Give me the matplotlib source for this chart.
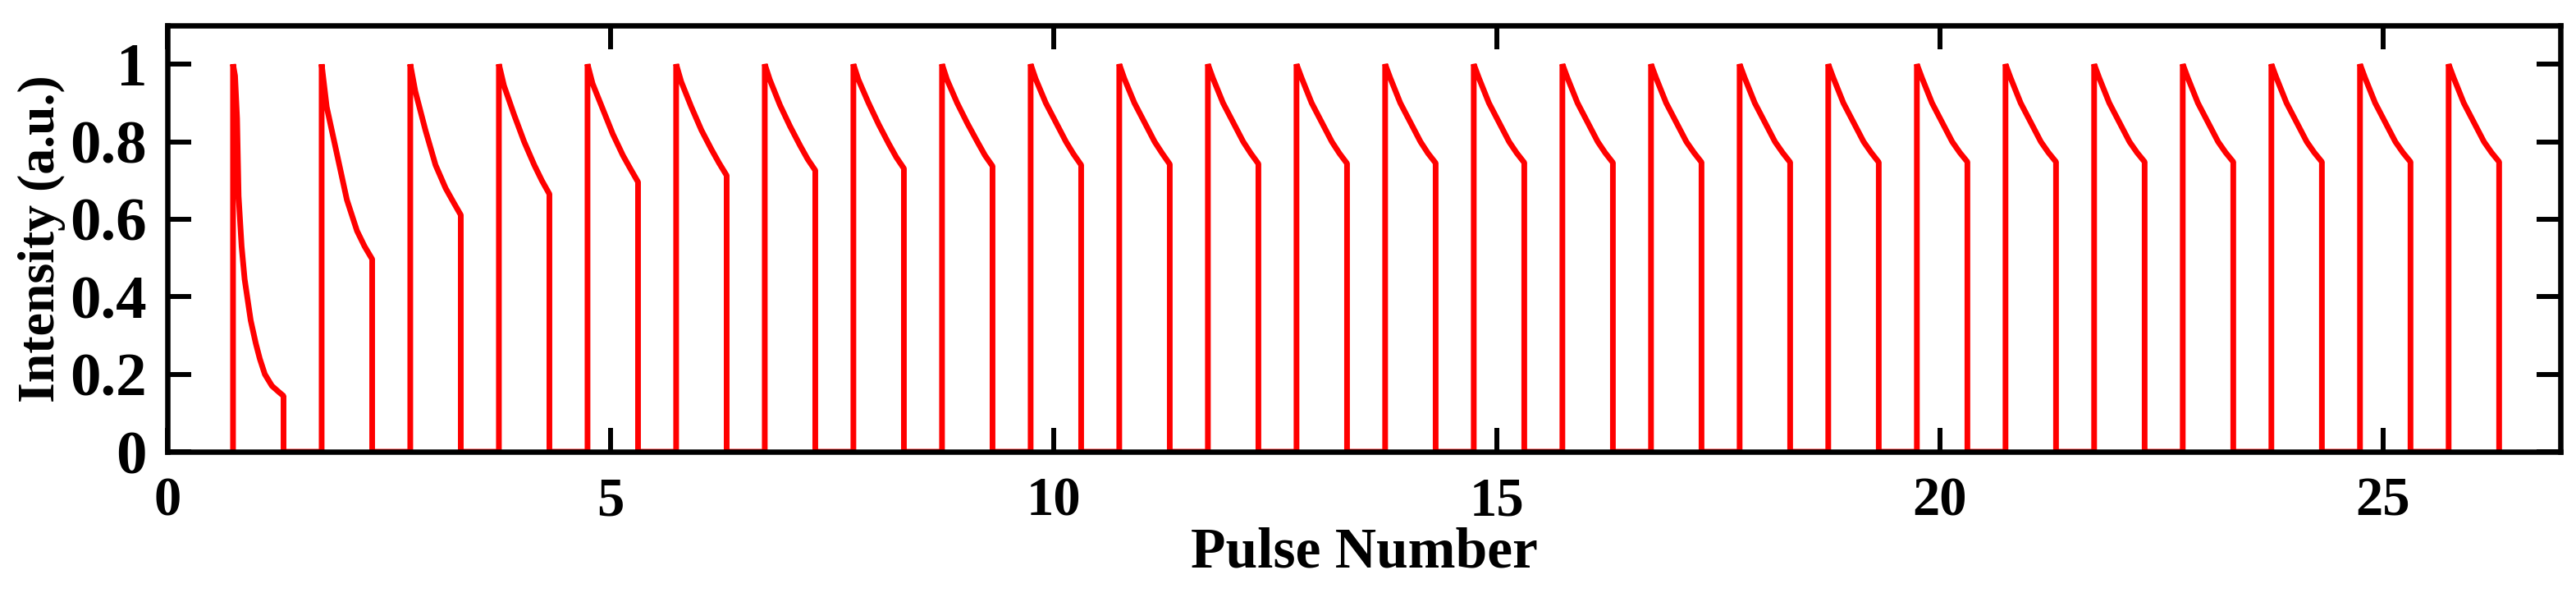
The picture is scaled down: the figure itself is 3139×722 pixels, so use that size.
import numpy as np
import matplotlib
matplotlib.use('Agg')
from matplotlib import pyplot as plt

# pulse train
pulse_num = list(range(1, 27))

# first pulse decays much faster, sampled on its own grid (fraction of pulse width)
t_first = [0.0, 0.04, 0.08, 0.11, 0.17, 0.23, 0.35, 0.45, 0.53, 0.63, 0.77, 0.9, 1.0]
v_first = [1.0, 0.97, 0.86, 0.66, 0.53, 0.445, 0.339, 0.28, 0.24, 0.20, 0.17, 0.155, 0.144]

# the other pulses, sampled at these fractions of the pulse width
t_grid = [0.0, 0.1, 0.3, 0.5, 0.7, 0.85, 1.0]
v_pulses = [
    [1.0, 0.89, 0.77, 0.65, 0.57, 0.53, 0.497],    # 2
    [1.0, 0.93, 0.83, 0.74, 0.68, 0.645, 0.611],   # 3
    [1.0, 0.945, 0.87, 0.80, 0.74, 0.70, 0.665],   # 4
    [1.0, 0.95, 0.885, 0.82, 0.765, 0.73, 0.696],  # 5
    [1.0, 0.955, 0.89, 0.83, 0.78, 0.745, 0.713],  # 6
    [1.0, 0.96, 0.895, 0.84, 0.79, 0.755, 0.726],  # 7
    [1.0, 0.96, 0.90, 0.845, 0.795, 0.76, 0.731],  # 8
    [1.0, 0.96, 0.90, 0.848, 0.80, 0.765, 0.737],  # 9
    [1.0, 0.962, 0.90, 0.85, 0.80, 0.768, 0.740],  # 10
    [1.0, 0.963, 0.90, 0.85, 0.80, 0.77, 0.742],   # 11
    [1.0, 0.964, 0.90, 0.85, 0.80, 0.77, 0.743],   # 12
    [1.0, 0.965, 0.90, 0.85, 0.80, 0.77, 0.744],   # 13
    [1.0, 0.965, 0.90, 0.85, 0.80, 0.77, 0.745],   # 14
    [1.0, 0.965, 0.90, 0.85, 0.80, 0.771, 0.746],  # 15
    [1.0, 0.965, 0.90, 0.85, 0.80, 0.771, 0.746],  # 16
    [1.0, 0.965, 0.90, 0.85, 0.80, 0.772, 0.747],  # 17
    [1.0, 0.965, 0.90, 0.85, 0.80, 0.772, 0.747],  # 18
    [1.0, 0.965, 0.90, 0.85, 0.80, 0.772, 0.747],  # 19
    [1.0, 0.965, 0.90, 0.85, 0.80, 0.772, 0.748],  # 20
    [1.0, 0.965, 0.90, 0.85, 0.80, 0.772, 0.748],  # 21
    [1.0, 0.965, 0.90, 0.85, 0.80, 0.772, 0.748],  # 22
    [1.0, 0.965, 0.90, 0.85, 0.80, 0.772, 0.748],  # 23
    [1.0, 0.965, 0.90, 0.85, 0.80, 0.772, 0.748],  # 24
    [1.0, 0.965, 0.90, 0.85, 0.80, 0.772, 0.748],  # 25
    [1.0, 0.965, 0.90, 0.85, 0.80, 0.772, 0.748],  # 26
]

x_ticks = [0, 5, 10, 15, 20, 25]
y_ticks = [0, 0.2, 0.4, 0.6, 0.8, 1]
y_ticklabels = ['0', '0.2', '0.4', '0.6', '0.8', '1']

rise_off = -0.26  # pulse starts this far before its number
fall_off = 0.31   # and ends this far after

plt.rcParams['font.family'] = ['Liberation Serif', 'DejaVu Serif']
plt.rcParams['font.weight'] = 'bold'

fig = plt.figure(figsize=(31.39, 7.22), dpi=100)
ax = fig.add_axes([0.065, 0.2382, 0.9289, 0.7188])

# build one polyline for the whole train
xs, ys = [], []
for i, n in enumerate(pulse_num):
    if i == 0:
        tt, vv = t_first, v_first
    else:
        tt, vv = t_grid, v_pulses[i - 1]
    x0, x1 = n + rise_off, n + fall_off
    xs += [x0]
    ys += [0.0]
    for t, v in zip(tt, vv):
        xs.append(x0 + t * (x1 - x0))
        ys.append(v)
    xs.append(x1)
    ys.append(0.0)

ax.plot(xs, ys, color='#ff0000', lw=5, solid_joinstyle='bevel', zorder=2)

ax.set_xlim(0, 27)
ax.set_ylim(0, 1.1)
ax.set_xticks(x_ticks)
ax.set_yticks(y_ticks)
ax.set_yticklabels(y_ticklabels)
ax.tick_params(direction='in', length=21, width=4.3,
               top=True, right=True, pad=22)
ax.tick_params(axis='x', labelsize=48)
ax.tick_params(axis='y', labelsize=54, pad=18)
for lab in ax.get_xticklabels() + ax.get_yticklabels():
    lab.set_fontweight('bold')
for sp in ax.spines.values():
    sp.set_linewidth(4.7)
    sp.set_zorder(5)

ax.set_xlabel('Pulse Number', fontsize=50, fontweight='bold', labelpad=0)
ax.set_ylabel('Intensity (a.u.)', fontsize=46, fontweight='bold', labelpad=4)

fig.savefig('out.png', dpi=100)
